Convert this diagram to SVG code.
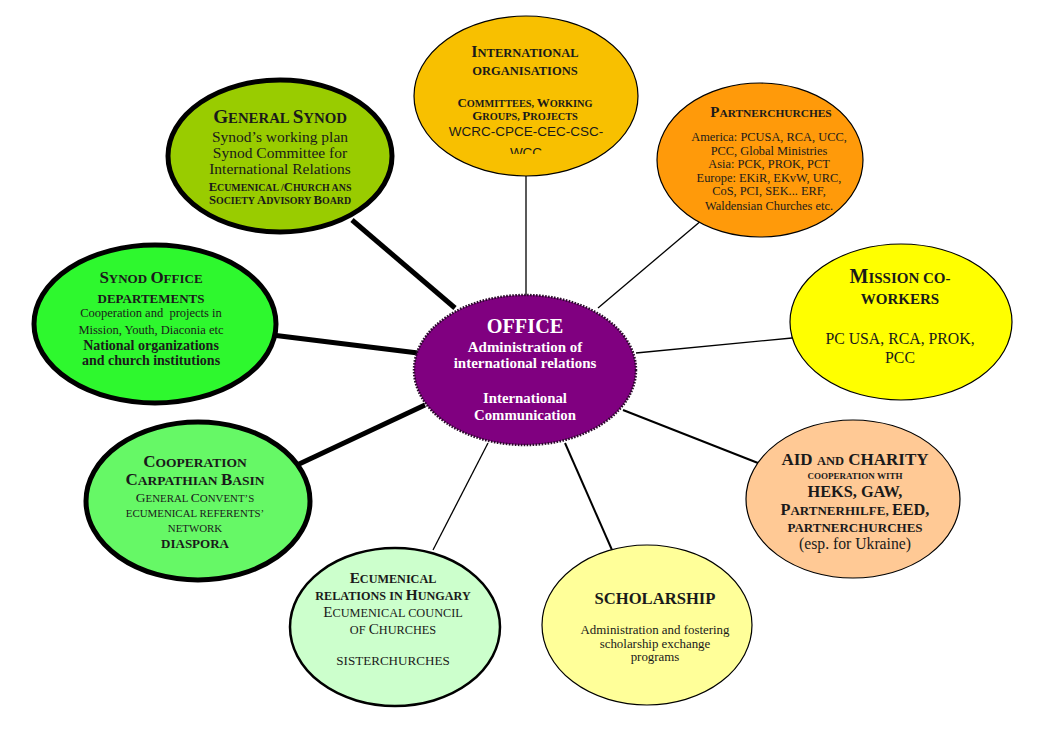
<svg xmlns="http://www.w3.org/2000/svg" width="1052" height="739" viewBox="0 0 1052 739">
<style>
text{font-family:"Liberation Serif","Times New Roman",serif;fill:#1a1a1a;text-anchor:middle}
.b{font-weight:bold}
.s{font-family:"Liberation Sans",Arial,sans-serif}
.w{fill:#ffffff}
.thin{stroke:#000;stroke-width:1.3;fill:none}
.med{stroke:#000;stroke-width:2;fill:none}
.thick{stroke:#000;stroke-width:5;fill:none}
.e1{stroke:#000;stroke-width:1.2}
.e3{stroke:#000;stroke-width:2.5}
.e5{stroke:#000;stroke-width:5}
</style>
<defs>
<clipPath id="clipWcc"><rect x="400" y="0" width="260" height="154"/></clipPath>
</defs>
<rect width="1052" height="739" fill="#ffffff"/>
<g id="connectors">
<line class="thin" x1="526" y1="176" x2="526" y2="296"/>
<line class="thin" x1="702" y1="220" x2="598" y2="308"/>
<line class="thick" x1="352" y1="220" x2="455" y2="308"/>
<line class="thick" x1="272" y1="335" x2="418" y2="353"/>
<line class="thick" x1="297" y1="465" x2="425" y2="405"/>
<line class="thin" x1="433" y1="550" x2="488" y2="443"/>
<line class="med" x1="612" y1="550" x2="565" y2="443"/>
<line class="med" x1="758" y1="463" x2="623" y2="410"/>
<line class="thin" x1="792" y1="338" x2="636" y2="353"/>
</g>
<g id="intl-organisations">
<ellipse class="e1" cx="526" cy="96" rx="112" ry="80" fill="#F8C000"/>
<text class="b" x="525" y="57" font-size="12.5"><tspan font-size="16">I</tspan>NTERNATIONAL</text>
<text class="b" x="525" y="75" font-size="12.5">ORGANISATIONS</text>
<text class="b" x="525" y="107" font-size="10.3"><tspan font-size="13">C</tspan>OMMITTEES, <tspan font-size="13">W</tspan>ORKING</text>
<text class="b" x="525" y="120" font-size="10.3"><tspan font-size="13">G</tspan>ROUPS, <tspan font-size="13">P</tspan>ROJECTS</text>
<text class="s" x="526" y="136" font-size="13.5">WCRC-CPCE-CEC-CSC-</text>
<text class="s" x="526" y="157" font-size="13.5" clip-path="url(#clipWcc)">WCC</text>
</g>
<g id="partnerchurches">
<ellipse class="e1" cx="760" cy="160" rx="103" ry="77" fill="#FF9A0A"/>
<text class="b" x="771" y="117" font-size="11.4"><tspan font-size="15">P</tspan>ARTNERCHURCHES</text>
<text x="769" y="141" font-size="12.4">America: PCUSA, RCA, UCC,</text>
<text x="769" y="154.5" font-size="12.4">PCC, Global Ministries</text>
<text x="769" y="168" font-size="12.4">Asia: PCK, PROK, PCT</text>
<text x="769" y="181.5" font-size="12.4">Europe: EKiR, EKvW, URC,</text>
<text x="769" y="195" font-size="12.4">CoS, PCI, SEK... ERF,</text>
<text x="769" y="210" font-size="12.4">Waldensian Churches etc.</text>
</g>
<g id="general-synod">
<ellipse class="e5" cx="280" cy="156" rx="112" ry="76" fill="#99CC00"/>
<text class="b" x="280" y="123" font-size="14.8"><tspan font-size="19.2">G</tspan>ENERAL <tspan font-size="19.2">S</tspan>YNOD</text>
<text x="280" y="142" font-size="15.5">Synod’s working plan</text>
<text x="280" y="158" font-size="15.5">Synod Committee for</text>
<text x="280" y="174" font-size="15.5">International Relations</text>
<text class="b" x="280" y="191" font-size="9.9"><tspan font-size="12.7">E</tspan>CUMENICAL /<tspan font-size="12.7">C</tspan>HURCH ANS</text>
<text class="b" x="280" y="204" font-size="9.9"><tspan font-size="12.7">S</tspan>OCIETY <tspan font-size="12.7">A</tspan>DVISORY <tspan font-size="12.7">B</tspan>OARD</text>
</g>
<g id="synod-office">
<ellipse class="e5" cx="155" cy="324" rx="121" ry="79" fill="#2EF82E"/>
<text class="b" x="151" y="283" font-size="13"><tspan font-size="17">S</tspan>YNOD <tspan font-size="17">O</tspan>FFICE</text>
<text class="b" x="151" y="303" font-size="13">DEPARTEMENTS</text>
<text x="151" y="317" font-size="12.5" xml:space="preserve">Cooperation and  projects in</text>
<text x="151" y="334" font-size="12.5">Mission, Youth, Diaconia etc</text>
<text class="b" x="151" y="350" font-size="14">National organizations</text>
<text class="b" x="151" y="365" font-size="14">and church institutions</text>
</g>
<g id="cooperation-carpathian">
<ellipse class="e5" cx="198" cy="501" rx="112" ry="79" fill="#66F866"/>
<text class="b" x="195" y="467" font-size="13.5"><tspan font-size="17">C</tspan>OOPERATION</text>
<text class="b" x="195" y="485" font-size="13.5"><tspan font-size="17">C</tspan>ARPATHIAN <tspan font-size="17">B</tspan>ASIN</text>
<text x="195" y="502" font-size="10.9"><tspan font-size="13.5">G</tspan>ENERAL <tspan font-size="13.5">C</tspan>ONVENT’S</text>
<text x="195" y="517" font-size="10.9">ECUMENICAL REFERENTS’</text>
<text x="195" y="532" font-size="10.9">NETWORK</text>
<text class="b" x="195" y="548" font-size="13">DIASPORA</text>
</g>
<g id="ecumenical-hungary">
<ellipse class="e3" cx="395" cy="627" rx="105" ry="79" fill="#CCFFCC"/>
<text class="b" x="393" y="583" font-size="12.2"><tspan font-size="15.3">E</tspan>CUMENICAL</text>
<text class="b" x="393" y="600" font-size="12.2">RELATIONS IN <tspan font-size="15.3">H</tspan>UNGARY</text>
<text x="393" y="617" font-size="12.3"><tspan font-size="15.2">E</tspan>CUMENICAL COUNCIL</text>
<text x="393" y="634" font-size="12.3">OF <tspan font-size="15.2">C</tspan>HURCHES</text>
<text x="393" y="665" font-size="13.1">SISTERCHURCHES</text>
</g>
<g id="scholarship">
<ellipse class="e1" cx="647" cy="625" rx="105" ry="80" fill="#FFFF99"/>
<text class="b" x="655" y="604" font-size="16.6">SCHOLARSHIP</text>
<text x="655" y="634" font-size="12.9">Administration and fostering</text>
<text x="655" y="647.5" font-size="12.9">scholarship exchange</text>
<text x="655" y="661" font-size="12.9">programs</text>
</g>
<g id="aid-charity">
<ellipse class="e1" cx="853" cy="499" rx="107" ry="79" fill="#FFC995"/>
<text class="b" x="855" y="465" font-size="17">AID <tspan font-size="12.5">AND</tspan> CHARITY</text>
<text class="b" x="855" y="479" font-size="9">COOPERATION WITH</text>
<text class="b" x="855" y="497" font-size="16.3">HEKS, GAW,</text>
<text class="b" x="855" y="515" font-size="13"><tspan font-size="16.3">P</tspan>ARTNERHILFE, <tspan font-size="16.3">EED,</tspan></text>
<text class="b" x="855" y="532" font-size="13">PARTNERCHURCHES</text>
<text x="855" y="549" font-size="15.7">(esp. for Ukraine)</text>
</g>
<g id="mission-coworkers">
<ellipse class="e1" cx="901" cy="322" rx="111" ry="78" fill="#FFFF00"/>
<text class="b" x="900" y="283" font-size="15"><tspan font-size="20">M</tspan>ISSION CO-</text>
<text class="b" x="900" y="304" font-size="15">WORKERS</text>
<text x="900" y="344" font-size="15.8">PC USA, RCA, PROK,</text>
<text x="900" y="363" font-size="15.8">PCC</text>
</g>
<g id="office">
<ellipse cx="525" cy="370" rx="111" ry="75" fill="#800080" stroke="#2a0a2a" stroke-width="2.5" stroke-dasharray="1.6 1.4"/>
<text class="b w" x="525" y="333" font-size="20.3">OFFICE</text>
<text class="b w" x="525" y="352" font-size="15">Administration of</text>
<text class="b w" x="525" y="368" font-size="15">international relations</text>
<text class="b w" x="525" y="403" font-size="14.8">International</text>
<text class="b w" x="525" y="420" font-size="14.8">Communication</text>
</g>
</svg>
